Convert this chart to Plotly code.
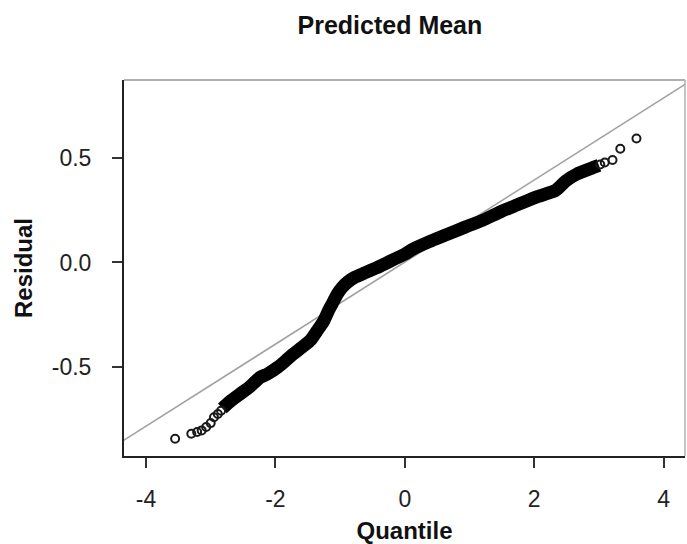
import plotly.graph_objects as go

# Normal Q-Q plot of residuals from the predicted-mean model.
# Dense central part of the sample (theoretical quantile, residual)
band_q = [-2.82, -2.68, -2.55, -2.40, -2.24, -2.12, -1.96, -1.84, -1.73, -1.56,
          -1.45, -1.36, -1.26, -1.17, -1.10, -1.04, -0.97, -0.88, -0.78, -0.62,
          -0.45, -0.30, -0.15, 0.0, 0.13, 0.38, 0.65, 0.94, 1.20, 1.49,
          1.75, 2.05, 2.33, 2.49, 2.66, 2.88, 3.00]
band_r = [-0.700, -0.662, -0.632, -0.598, -0.552, -0.535, -0.502, -0.471, -0.441, -0.400,
          -0.370, -0.330, -0.285, -0.225, -0.185, -0.150, -0.120, -0.093, -0.072, -0.050,
          -0.027, -0.005, 0.018, 0.040, 0.065, 0.100, 0.134, 0.171, 0.202, 0.245,
          0.278, 0.316, 0.346, 0.392, 0.425, 0.452, 0.466]

# Sparse tail observations, drawn individually
tail_q = [-3.55, -3.30, -3.21, -3.14, -3.07, -3.00, -2.95, -2.89, -2.84,
          3.02, 3.09, 3.21, 3.33, 3.58]
tail_r = [-0.846, -0.822, -0.814, -0.806, -0.790, -0.771, -0.743, -0.727, -0.712,
          0.470, 0.480, 0.492, 0.546, 0.595]

# Reference line through the quantiles
ref_slope = 0.197
ref_intercept = 0.002
ref_q = [-4.6, 4.6]
ref_r = [ref_intercept + ref_slope * q for q in ref_q]

x_ticks = [-4, -2, 0, 2, 4]
x_tick_text = ["-4", "-2", "0", "2", "4"]
y_ticks = [-0.5, 0.0, 0.5]
y_tick_text = ["-0.5", "0.0", "0.5"]

font_family = "Liberation Sans, Arial, sans-serif"

fig = go.Figure()

fig.add_trace(go.Scatter(
    x=ref_q, y=ref_r, mode="lines",
    line=dict(color="#a0a0a0", width=1.6),
    hoverinfo="skip", showlegend=False,
))

fig.add_trace(go.Scatter(
    x=band_q, y=band_r, mode="lines",
    line=dict(color="black", width=13, shape="spline", smoothing=0.6),
    showlegend=False,
))

fig.add_trace(go.Scatter(
    x=tail_q, y=tail_r, mode="markers",
    marker=dict(symbol="circle-open", size=8, color="#1a1a1a",
                line=dict(width=2, color="#1a1a1a")),
    showlegend=False,
))

fig.update_layout(
    width=687, height=544,
    margin=dict(l=124, r=2, t=80, b=85),
    paper_bgcolor="white",
    plot_bgcolor="white",
    font=dict(family=font_family, color="#111111"),
    title=dict(
        text="<b>Predicted Mean</b>",
        x=0.474, xref="paper", xanchor="center",
        y=1, yref="container", yanchor="top", pad=dict(t=16),
        font=dict(size=25, family=font_family, color="#111111"),
    ),
    xaxis=dict(
        range=[-4.34, 4.33],
        tickvals=x_ticks, ticktext=x_tick_text,
        ticks="outside", ticklen=10, tickwidth=2, tickcolor="#333333",
        ticklabelstandoff=11,
        tickfont=dict(size=23, family=font_family, color="#222222"),
        showline=True, linecolor="#222222", linewidth=2,
        showgrid=False, zeroline=False,
        title=dict(text="<b>Quantile</b>", standoff=14,
                   font=dict(size=24, family=font_family, color="#111111")),
    ),
    yaxis=dict(
        range=[-0.929, 0.876],
        tickvals=y_ticks, ticktext=y_tick_text,
        ticks="outside", ticklen=10, tickwidth=2, tickcolor="#333333",
        ticklabelstandoff=16,
        tickfont=dict(size=23, family=font_family, color="#222222"),
        showline=True, linecolor="#222222", linewidth=2,
        showgrid=False, zeroline=False,
        title=dict(text="<b>Residual</b>", standoff=12,
                   font=dict(size=24, family=font_family, color="#111111")),
    ),
    shapes=[
        dict(type="line", xref="paper", yref="paper", x0=0, x1=1, y0=1, y1=1,
             line=dict(color="#b0b0b0", width=2)),
        dict(type="line", xref="paper", yref="paper", x0=1, x1=1, y0=0, y1=1,
             line=dict(color="#b0b0b0", width=1.5)),
    ],
)

fig.write_html("out.html")
